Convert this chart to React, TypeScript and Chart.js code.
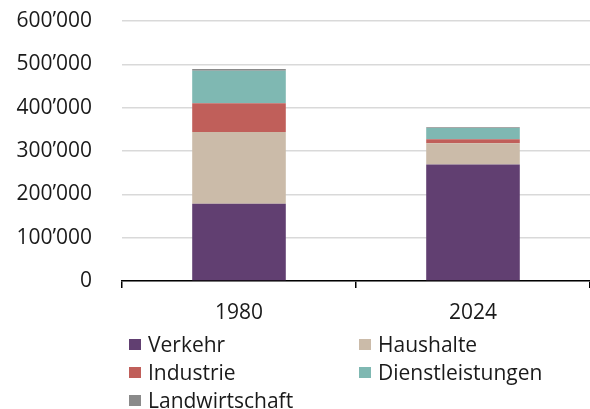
import React, { useEffect, useRef } from "react";
import { Chart, registerables } from "chart.js";

Chart.register(...registerables);

const categories = ["1980", "2024"];
const seriesNames = ["Verkehr", "Haushalte", "Industrie", "Dienstleistungen", "Landwirtschaft"];
const verkehr = [178000, 269000];
const haushalte = [166000, 49000];
const industrie = [66000, 9000];
const dienstleistungen = [75000, 26000];
const landwirtschaft = [4000, 2000];
const colors = ["#613f71", "#cbbba9", "#c05f5a", "#7fb8b2", "#8a8a8a"];
const yMax = 600000;
const yStep = 100000;

const FONT = "'Open Sans', 'Noto Sans', sans-serif";

function fmt(v: number): string {
  return String(Math.round(v)).replace(/\B(?=(\d{3})+(?!\d))/g, "\u2019");
}

export default function App() {
  const ref = useRef<HTMLCanvasElement | null>(null);
  useEffect(() => {
    if (!ref.current) return;
    const values = [verkehr, haushalte, industrie, dienstleistungen, landwirtschaft];
    const chart = new Chart(ref.current, {
      type: "bar",
      data: {
        labels: categories,
        datasets: seriesNames.map((n, i) => ({
          label: n,
          data: values[i],
          backgroundColor: colors[i],
          borderWidth: 0,
          barPercentage: 0.4,
          categoryPercentage: 1,
        })),
      },
      options: {
        animation: false,
        responsive: false,
        maintainAspectRatio: false,
        layout: { padding: { top: 21, bottom: 78, right: 0, left: 0 } },
        plugins: { legend: { display: false }, tooltip: { enabled: false } },
        scales: {
          x: {
            stacked: true,
            afterFit: (s: any) => { s.height = 50; },
            border: { display: true, color: "#000000", width: 1.5 },
            grid: { display: true, drawOnChartArea: false, drawTicks: true, tickLength: 7, color: "#000000", lineWidth: 1.5, offset: true },
            ticks: { color: "#1a1a1a", font: { family: FONT, size: 21 }, padding: 12 },
          },
          y: {
            stacked: true,
            min: 0,
            max: yMax,
            afterFit: (s: any) => { s.width = 122; s.paddingTop = 0; s.paddingBottom = 0; },
            border: { display: false },
            grid: { color: "#d9d9d9", lineWidth: 1.5, drawTicks: false },
            ticks: {
              stepSize: yStep,
              padding: 30,
              color: "#1a1a1a",
              font: { family: FONT, size: 21 },
              callback: (v: any) => fmt(Number(v)),
            },
          },
        },
      },
    });
    return () => chart.destroy();
  }, []);

  const legendPos = [
    [0, 0], [1, 0], [0, 1], [1, 1], [0, 2],
  ];

  return (
    <div style={{ position: "absolute", left: 0, top: 0, width: 590, height: 409, background: "#fff", overflow: "hidden" }}>
      <canvas ref={ref} width={590} height={409} style={{ position: "absolute", left: 0, top: 0 }} />
      {seriesNames.map((n, i) => (
        <div
          key={n}
          style={{
            position: "absolute",
            left: 129 + legendPos[i][0] * 230,
            top: 344 + legendPos[i][1] * 28 - 14,
            height: 28,
            display: "flex",
            alignItems: "center",
            fontFamily: FONT,
            fontSize: 21,
            color: "#1a1a1a",
            whiteSpace: "nowrap",
          }}
        >
          <span style={{ display: "inline-block", width: 12, height: 11, background: colors[i], marginRight: 7 }} />
          <span>{n}</span>
        </div>
      ))}
    </div>
  );
}
